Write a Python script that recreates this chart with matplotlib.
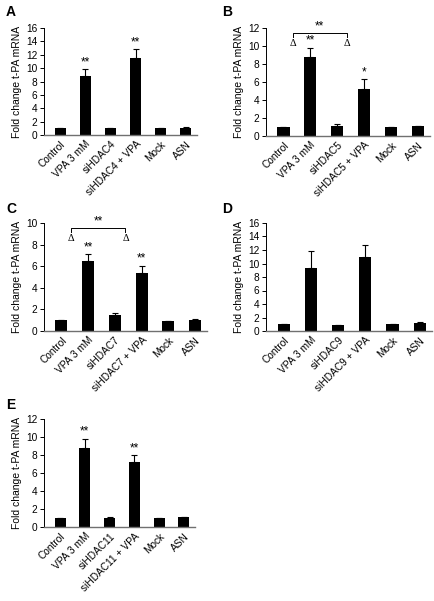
import numpy as np
import matplotlib
matplotlib.use("Agg")
import matplotlib.pyplot as plt

plt.rcParams['font.family'] = ['Liberation Sans', 'DejaVu Sans']

# data for the five panels
conditions = ["Control", "VPA 3 mM", "siHDAC{}", "siHDAC{} + VPA", "Mock", "ASN"]

a_values = [1.0, 8.8, 1.0, 11.5, 1.0, 1.1]
a_errors = [0.05, 1.0, 0.1, 1.3, 0.05, 0.1]
b_values = [1.0, 8.8, 1.1, 5.2, 1.0, 1.1]
b_errors = [0.05, 1.0, 0.2, 1.1, 0.05, 0.05]
c_values = [1.0, 6.5, 1.5, 5.35, 0.9, 1.0]
c_errors = [0.05, 0.6, 0.2, 0.7, 0.05, 0.15]
d_values = [1.0, 9.3, 0.9, 11.0, 1.0, 1.2]
d_errors = [0.05, 2.6, 0.05, 1.7, 0.05, 0.1]
e_values = [1.0, 8.8, 1.0, 7.2, 1.0, 1.1]
e_errors = [0.05, 1.0, 0.1, 0.75, 0.05, 0.05]

W, H = 435, 601
fig = plt.figure(figsize=(W / 100, H / 100), dpi=100)


def make_axes(left, right, top, bottom):
    return fig.add_axes([left / W, 1 - bottom / H, (right - left) / W, (bottom - top) / H])


def panel(ax, values, errors, hdac, ymax, ystep, stars=None, bracket=None):
    x = np.arange(len(values))
    ax.bar(x, values, width=0.45, color='black', zorder=2)
    ax.errorbar(x, values, yerr=[np.zeros(len(values)), errors], fmt='none',
                ecolor='black', elinewidth=0.8, capsize=2.4, capthick=0.8, zorder=3)
    labels = [c.format(hdac) for c in conditions]
    ax.set_xticks(x)
    ax.set_xticklabels(labels, rotation=45, ha='right', rotation_mode='anchor', fontsize=7.3)
    ax.tick_params(axis='x', length=0, pad=3)
    ax.set_ylim(0, ymax)
    ax.set_yticks(np.arange(0, ymax + 0.1, ystep))
    ax.tick_params(axis='y', length=3, width=0.7, labelsize=7.3, pad=2)
    ax.set_xlim(-0.65, 5.45)
    ax.spines['top'].set_visible(False)
    ax.spines['right'].set_visible(False)
    ax.spines['left'].set_linewidth(0.7)
    ax.spines['bottom'].set_color('#707070')
    ax.spines['bottom'].set_linewidth(1.0)
    ax.set_ylabel("Fold change t-PA mRNA", fontsize=7.5, labelpad=3)
    if stars:
        for i, s in stars:
            ax.text(i, values[i] + errors[i] + ymax * 0.01, s, ha='center', va='bottom', fontsize=8.5)
    if bracket:
        x0, x1, ytop, ytip = bracket
        ax.plot([x0, x0, x1, x1], [ytip, ytop, ytop, ytip], color='black', lw=0.7, clip_on=False)
        ax.text((x0 + x1) / 2, ytop + ymax * 0.005, "**", ha='center', va='bottom', fontsize=8.5)
        for xx in (x0, x1):
            ax.text(xx, ytip - ymax * 0.02, "Δ", ha='center', va='top', fontsize=7.5,
                    family=['Liberation Serif', 'DejaVu Serif'])


ax_a = make_axes(44, 197, 28, 135)
panel(ax_a, a_values, a_errors, 4, 16, 2, stars=[(1, "**"), (3, "**")])

ax_b = make_axes(266, 430, 28, 136)
panel(ax_b, b_values, b_errors, 5, 12, 2, stars=[(1, "**"), (3, "*")],
      bracket=(0.35, 2.35, 11.45, 11.0))

ax_c = make_axes(44, 207, 223, 331)
panel(ax_c, c_values, c_errors, 7, 10, 2, stars=[(1, "**"), (3, "**")],
      bracket=(0.35, 2.4, 9.55, 9.15))

ax_d = make_axes(266, 432, 223, 331)
panel(ax_d, d_values, d_errors, 9, 16, 2)

ax_e = make_axes(44, 195, 419, 527)
panel(ax_e, e_values, e_errors, 11, 12, 2, stars=[(1, "**"), (3, "**")])

for label, px, py in [("A", 6, 12), ("B", 222, 12), ("C", 6, 209), ("D", 222, 209), ("E", 6, 405)]:
    fig.text(px / W, 1 - py / H, label, fontsize=10, fontweight='bold', ha='left', va='center')

fig.savefig("out.png", dpi=100, facecolor='white')
